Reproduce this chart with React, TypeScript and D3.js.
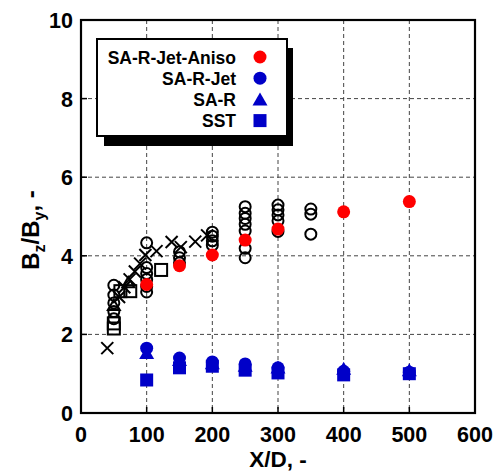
import React from "react";
import * as d3 from "d3";

// ---- data ----
const simX = [100, 150, 200, 250, 300, 400, 500];
const anisoY = [3.27, 3.75, 4.02, 4.4, 4.68, 5.12, 5.38];
const jetY = [1.65, 1.4, 1.3, 1.25, 1.15, 1.06, 1.04];
const saY = [1.5, 1.32, 1.24, 1.18, 1.13, 1.1, 1.06];
const sstY = [0.84, 1.15, 1.19, 1.09, 1.02, 0.97, 1.0];

const expCircleX = [
  50, 50, 50, 50, 50,
  100, 100, 100, 100, 100, 100,
  150, 150, 150,
  200, 200, 200, 200,
  250, 250, 250, 250, 250, 250, 250,
  300, 300, 300, 300, 300,
  350, 350, 350,
];
const expCircleY = [
  3.25, 3.0, 2.8, 2.58, 2.4,
  4.33, 3.7, 3.55, 3.4, 3.22, 3.08,
  4.1, 3.95, 3.82,
  4.6, 4.5, 4.38, 4.27,
  5.25, 5.08, 4.95, 4.8, 4.63, 4.19, 3.95,
  5.29, 5.17, 5.04, 4.89, 4.62,
  5.19, 5.06, 4.55,
];
const expCrossX = [40, 58, 66, 74, 82, 90, 98, 115, 138, 152, 174, 192];
const expCrossY = [1.65, 2.95, 3.2, 3.4, 3.6, 3.8, 4.02, 4.12, 4.35, 4.22, 4.36, 4.52];
const expSquareX = [50, 50, 60, 75, 122];
const expSquareY = [2.28, 2.15, 3.1, 3.1, 3.64];
const expTriX = [50, 72];
const expTriY = [2.72, 3.3];

const xTicks = [0, 100, 200, 300, 400, 500, 600];
const yTicks = [0, 2, 4, 6, 8, 10];
const legendLabels = ["SA-R-Jet-Aniso", "SA-R-Jet", "SA-R", "SST"];
const legendShapes = ["circle", "circle", "triangle", "square"];
const legendColors = ["#ff0000", "#0000c8", "#0000c8", "#0000c8"];

const W = 501;
const H = 475;
const L = 81, R = 475, T = 20, B = 413;

const x = d3.scaleLinear().domain([0, 600]).range([L, R]);
const y = d3.scaleLinear().domain([0, 10]).range([B, T]);

const triPath = (cx: number, cy: number, s = 1) =>
  `M${cx},${cy - 8 * s}L${cx + 7.5 * s},${cy + 5 * s}L${cx - 7.5 * s},${cy + 5 * s}Z`;

function Marker({ shape, cx, cy, color }: { shape: string; cx: number; cy: number; color: string }) {
  if (shape === "circle") return <circle cx={cx} cy={cy} r={6.5} fill={color} />;
  if (shape === "square") return <rect x={cx - 6.5} y={cy - 6.5} width={13} height={13} fill={color} />;
  return <path d={triPath(cx, cy)} fill={color} />;
}

export default function App() {
  const font = "'Liberation Sans', Arial, sans-serif";
  return (
    <svg
      width={W}
      height={H}
      style={{ position: "absolute", left: 0, top: 0, background: "#fff" }}
      fontFamily={font}
    >
      <rect width={W} height={H} fill="#fff" />
      {/* grid */}
      {xTicks.slice(1, -1).map((t) => (
        <line key={"gx" + t} x1={x(t)} x2={x(t)} y1={T} y2={B} stroke="#444" strokeWidth={1} strokeDasharray="4,3" />
      ))}
      {yTicks.slice(1, -1).map((t) => (
        <line key={"gy" + t} x1={L} x2={R} y1={y(t)} y2={y(t)} stroke="#444" strokeWidth={1} strokeDasharray="4,3" />
      ))}
      {/* inner ticks */}
      {xTicks.map((t) => (
        <line key={"tx" + t} x1={x(t)} x2={x(t)} y1={B} y2={B - 6} stroke="#000" strokeWidth={1.5} />
      ))}
      {yTicks.map((t) => (
        <line key={"ty" + t} x1={L} x2={L + 6} y1={y(t)} y2={y(t)} stroke="#000" strokeWidth={1.5} />
      ))}

      {/* experimental open markers */}
      {expSquareX.map((v, i) => (
        <rect key={"es" + i} x={x(v) - 6} y={y(expSquareY[i]) - 6} width={12} height={12} fill="none" stroke="#000" strokeWidth={2} />
      ))}
      {expTriX.map((v, i) => (
        <path key={"et" + i} d={triPath(x(v), y(expTriY[i]), 0.8)} fill="none" stroke="#000" strokeWidth={2} />
      ))}
      {expCircleX.map((v, i) => (
        <circle key={"ec" + i} cx={x(v)} cy={y(expCircleY[i])} r={5.5} fill="none" stroke="#000" strokeWidth={2} />
      ))}
      {expCrossX.map((v, i) => {
        const cx = x(v), cy = y(expCrossY[i]), s = 6;
        return (
          <path key={"ex" + i} d={`M${cx - s},${cy - s}L${cx + s},${cy + s}M${cx - s},${cy + s}L${cx + s},${cy - s}`} stroke="#000" strokeWidth={2} fill="none" />
        );
      })}

      {/* simulations */}
      {simX.map((v, i) => (
        <rect key={"sst" + i} x={x(v) - 6.5} y={y(sstY[i]) - 6.5} width={13} height={13} fill="#0000c8" />
      ))}
      {simX.map((v, i) => (
        <path key={"sa" + i} d={triPath(x(v), y(saY[i]))} fill="#0000c8" />
      ))}
      {simX.map((v, i) => (
        <circle key={"jet" + i} cx={x(v)} cy={y(jetY[i])} r={6.5} fill="#0000c8" />
      ))}
      {simX.map((v, i) => (
        <circle key={"an" + i} cx={x(v)} cy={y(anisoY[i])} r={6.5} fill="#ff0000" />
      ))}

      {/* frame */}
      <rect x={L} y={T} width={R - L} height={B - T} fill="none" stroke="#000" strokeWidth={2.2} />

      {/* tick labels */}
      {xTicks.map((t) => (
        <text key={"lx" + t} x={x(t)} y={442} textAnchor="middle" fontSize={21.5} fontWeight="bold">
          {t}
        </text>
      ))}
      {yTicks.map((t) => (
        <text key={"ly" + t} x={73} y={y(t) + 8} textAnchor="end" fontSize={21.5} fontWeight="bold">
          {t}
        </text>
      ))}

      {/* axis titles */}
      <text x={278} y={467} textAnchor="middle" fontSize={22.5} fontWeight="bold">
        X/D, -
      </text>
      <text transform="translate(39,230) rotate(-90)" textAnchor="middle" fontSize={24} fontWeight="bold">
        B<tspan fontSize={16} dy={6}>z</tspan>
        <tspan dy={-6}>/B</tspan>
        <tspan fontSize={16} dy={6}>y</tspan>
        <tspan dy={-6}>, -</tspan>
      </text>

      {/* legend */}
      <rect x={104} y={48} width={189} height={98} fill="#000" />
      <rect x={97} y={39} width={190} height={97} fill="#fff" stroke="#000" strokeWidth={2} />
      {legendLabels.map((lab, i) => {
        const cy = 57 + i * 21.2;
        return (
          <g key={"lg" + i}>
            <text x={236} y={cy + 6.5} textAnchor="end" fontSize={17.5} fontWeight="bold">
              {lab}
            </text>
            <Marker shape={legendShapes[i]} cx={260} cy={cy + (legendShapes[i] === "triangle" ? 1 : 0)} color={legendColors[i]} />
          </g>
        );
      })}
    </svg>
  );
}
